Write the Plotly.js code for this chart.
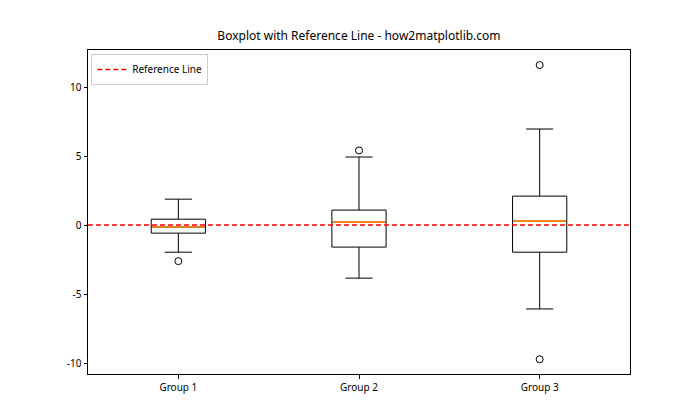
<!DOCTYPE html>
<html>
<head>
<meta charset="utf-8">
<script src="https://cdn.plot.ly/plotly-3.0.1.min.js"></script>
<style>html,body{margin:0;padding:0;background:#fff;}#chart{width:700px;height:420px;}</style>
</head>
<body>
<div id="chart"></div>
<script>
// Data
const groups = ["Group 1", "Group 2", "Group 3"];
const positions = [1, 2, 3];
const lowerWhisker = [-1.96, -3.84, -6.07];
const q1 = [-0.58, -1.59, -1.96];
const median = [-0.14, 0.22, 0.29];
const q3 = [0.43, 1.09, 2.10];
const upperWhisker = [1.88, 4.93, 6.96];
const outlierGroup = [1, 2, 3, 3];
const outlierValue = [-2.61, 5.41, 11.59, -9.71];
const referenceValue = 0;
const yTicks = [-10, -5, 0, 5, 10];
const yTickText = ["-10", "-5", "0", "5", "10"];

const boxWidth = 0.3;
const font = "Noto Sans, DejaVu Sans, sans-serif";

const traces = [];
traces.push({
  type: "box",
  x: positions,
  q1: q1, median: median, q3: q3,
  lowerfence: lowerWhisker, upperfence: upperWhisker,
  width: boxWidth,
  whiskerwidth: 0.5,
  fillcolor: "rgba(0,0,0,0)",
  line: {color: "#000", width: 1},
  boxpoints: false,
  hoverinfo: "skip",
  showlegend: false
});
// median lines (orange), drawn over the box's own median
const mx = [], my = [];
positions.forEach((p, i) => { mx.push(p - boxWidth/2 + 0.003, p + boxWidth/2 - 0.003, null); my.push(median[i], median[i], null); });
traces.push({type: "scatter", mode: "lines", x: mx, y: my, line: {color: "#ff7f0e", width: 1.6}, showlegend: false, hoverinfo: "skip"});
// outliers
traces.push({type: "scatter", mode: "markers", x: outlierGroup, y: outlierValue,
  marker: {symbol: "circle-open", size: 7, color: "#000", line: {width: 1, color: "#000"}}, showlegend: false, hoverinfo: "skip"});
// reference line
traces.push({type: "scatter", mode: "lines", x: [0.5, 3.5], y: [referenceValue, referenceValue],
  line: {color: "#ff0000", width: 1.5, dash: "5px,3px"}, name: "Reference Line", showlegend: true});

const layout = {
  width: 700, height: 420,
  margin: {l: 88, r: 70, t: 50, b: 46},
  paper_bgcolor: "#fff", plot_bgcolor: "#fff",
  font: {family: font, size: 10, color: "#000"},
  title: {text: "Boxplot with Reference Line - how2matplotlib.com", font: {family: font, size: 12, color: "#000"},
    x: 0.5128, xanchor: "center", y: 0.905, yanchor: "bottom"},
  showlegend: true,
  legend: {x: 0.006, y: 0.988, xanchor: "left", yanchor: "top", bgcolor: "rgba(255,255,255,0.8)",
    bordercolor: "#cccccc", borderwidth: 1, font: {family: font, size: 10}, itemwidth: 30,
    tracegroupgap: 0},
  xaxis: {range: [0.5, 3.5], tickvals: positions, ticktext: groups, showgrid: false, zeroline: false,
    showline: true, mirror: true, linecolor: "#000", linewidth: 1, ticks: "outside", ticklen: 3.5, tickcolor: "#000"},
  yaxis: {range: [-10.78, 12.68], tickvals: yTicks, ticktext: yTickText, showgrid: false, zeroline: false,
    showline: true, mirror: true, linecolor: "#000", linewidth: 1, ticks: "outside", ticklen: 3.5, tickcolor: "#000"}
};
Plotly.newPlot("chart", traces, layout, {displayModeBar: false, staticPlot: true});
</script>
</body>
</html>
